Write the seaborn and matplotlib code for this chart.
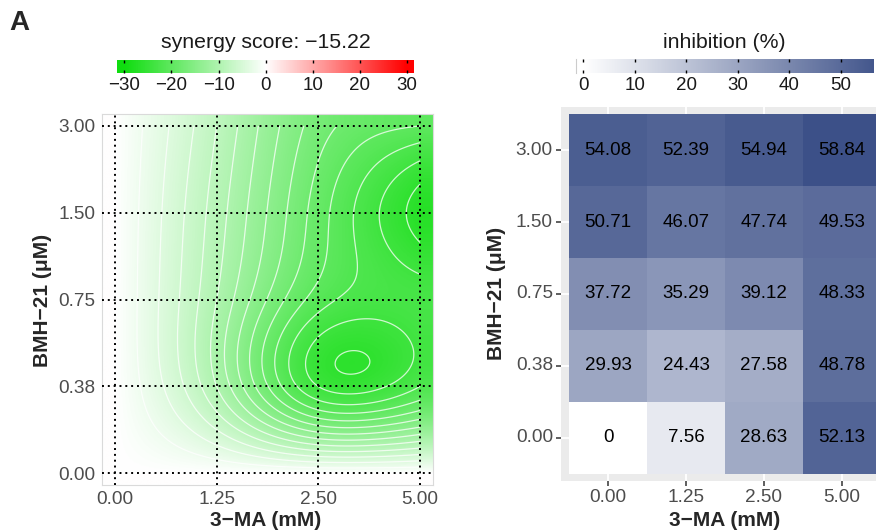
import numpy as np
import pandas as pd
import matplotlib
matplotlib.use("Agg")
import matplotlib.pyplot as plt
import seaborn as sns
from matplotlib.colors import LinearSegmentedColormap

# ---------------- data ----------------
ma_doses = ["0.00", "1.25", "2.50", "5.00"]              # 3-MA (mM)
bmh_doses = ["0.00", "0.38", "0.75", "1.50", "3.00"]     # BMH-21 (uM), bottom -> top
synergy_score = -15.22

# synergy (delta) scores per BMH-21 dose, across 3-MA doses
syn_bmh_0_00 = [0.0, 0.0, 0.0, 0.0]
syn_bmh_0_38 = [0.0, -10.0, -24.0, -22.0]
syn_bmh_0_75 = [0.0, -10.0, -21.0, -23.0]
syn_bmh_1_50 = [0.0, -9.0, -19.0, -27.0]
syn_bmh_3_00 = [0.0, -8.0, -17.0, -20.0]

# inhibition (%) per BMH-21 dose, across 3-MA doses
inh_bmh_0_00 = [0.0, 7.56, 28.63, 52.13]
inh_bmh_0_38 = [29.93, 24.43, 27.58, 48.78]
inh_bmh_0_75 = [37.72, 35.29, 39.12, 48.33]
inh_bmh_1_50 = [50.71, 46.07, 47.74, 49.53]
inh_bmh_3_00 = [54.08, 52.39, 54.94, 58.84]

# ---------------- setup ----------------
sns.set_style("white")
plt.rcParams["font.family"] = ["Liberation Sans", "DejaVu Sans"]

W, H = 876, 531
fig = plt.figure(figsize=(W / 100, H / 100), dpi=100)


def ax_px(l, t, r, b):
    return fig.add_axes([l / W, 1 - b / H, (r - l) / W, (b - t) / H])


def fx(px):
    return px / W


def fy(py):
    return 1 - py / H


TICK_GREY = "#4D4D4D"
TICK_FS = 13.7
syn_cmap = LinearSegmentedColormap.from_list("syn", ["#10DD10", "#FFFFFF", "#FF0000"])
inh_cmap = LinearSegmentedColormap.from_list("inh", ["#FFFFFF", "#3C5088"])


def natural_spline_weights(n, t):
    """Weights mapping n knot values (at 0..n-1) to natural cubic spline values at t."""
    Wt = np.zeros((len(t), n))
    for k in range(n):
        y = np.zeros(n)
        y[k] = 1.0
        M = np.zeros(n)
        if n > 2:
            A = np.zeros((n - 2, n - 2))
            rhs = np.zeros(n - 2)
            for i in range(1, n - 1):
                A[i - 1, i - 1] = 4.0
                if i - 2 >= 0:
                    A[i - 1, i - 2] = 1.0
                if i < n - 2:
                    A[i - 1, i] = 1.0
                rhs[i - 1] = 6 * (y[i + 1] - 2 * y[i] + y[i - 1])
            M[1:-1] = np.linalg.solve(A, rhs)
        i = np.clip(np.floor(t).astype(int), 0, n - 2)
        b = t - i
        a = 1 - b
        Wt[:, k] = a * y[i] + b * y[i + 1] + ((a ** 3 - a) * M[i] + (b ** 3 - b) * M[i + 1]) / 6
    return Wt


# ---------------- left: synergy surface ----------------
Z = np.array([syn_bmh_0_00, syn_bmh_0_38, syn_bmh_0_75, syn_bmh_1_50, syn_bmh_3_00])
ny, nx = Z.shape

axL = ax_px(101.7, 114.3, 432.7, 485.0)
xl = (-0.131, 3.125)
yl = (-0.135, 4.134)

tx = np.linspace(xl[0], xl[1], 500)
ty = np.linspace(yl[0], yl[1], 500)
Zf = natural_spline_weights(ny, np.clip(ty, 0, ny - 1)) @ Z @ natural_spline_weights(nx, np.clip(tx, 0, nx - 1)).T
axL.imshow(Zf, extent=(xl[0], xl[1], yl[0], yl[1]), origin="lower", aspect="auto",
           cmap=syn_cmap, vmin=-30, vmax=30, interpolation="bilinear", zorder=0)

cx = np.linspace(0, nx - 1, 300)
cy = np.linspace(0, ny - 1, 300)
Zc = natural_spline_weights(ny, cy) @ Z @ natural_spline_weights(nx, cx).T
axL.contour(cx, cy, Zc, levels=np.arange(-28, -1, 2), colors="white", linewidths=0.9,
            linestyles="solid", alpha=0.75, zorder=1)

axL.set_xlim(*xl)
axL.set_ylim(*yl)
axL.set_xticks(range(nx))
axL.set_xticklabels(ma_doses)
axL.set_yticks(range(ny))
axL.set_yticklabels(bmh_doses)
axL.grid(True, color="black", linestyle=(0, (1, 2)), linewidth=1.4)
axL.set_axisbelow(False)
for s in axL.spines.values():
    s.set_color("#DADADA")
    s.set_linewidth(0.8)
axL.tick_params(axis="both", length=3.0, width=1.0, color="black", labelsize=TICK_FS, labelcolor=TICK_GREY)
axL.tick_params(axis="x", pad=1.0)
axL.tick_params(axis="y", pad=1.5)

# left colorbar
cbL = ax_px(117.3, 60.0, 414.0, 73.3)
grad = np.linspace(-31.5, 31.5, 400)[None, :]
cbL.imshow(grad, extent=(-31.5, 31.5, 0, 1), aspect="auto", cmap=syn_cmap, vmin=-30, vmax=30)
cbL.set_xlim(-31.5, 31.5)
cbL.set_ylim(0, 1)
cbL.set_yticks([])
cbL.set_xticks([-30, -20, -10, 0, 10, 20, 30])
cbL.set_xticklabels(["\u221230", "\u221220", "\u221210", "0", "10", "20", "30"])
cbL.tick_params(axis="x", direction="in", top=True, bottom=True, length=2.5, width=1.0,
                color="black", labelsize=13.5, labelcolor="#1A1A1A", pad=3.0)
for s in cbL.spines.values():
    s.set_visible(False)
fig.text(fx(265.7), fy(42), f"synergy score: {synergy_score:.2f}".replace("-", "\u2212"),
         ha="center", va="center", fontsize=15.3, color="#1A1A1A")

# ---------------- right: inhibition heatmap ----------------
inh = pd.DataFrame([inh_bmh_3_00, inh_bmh_1_50, inh_bmh_0_75, inh_bmh_0_38, inh_bmh_0_00],
                   index=bmh_doses[::-1], columns=ma_doses)
labels = inh.map(lambda v: "0" if v == 0 else f"{v:.2f}")
vmax = inh.values.max()

axR = ax_px(561.0, 107.0, 889.0, 481.0)
axR.set_facecolor("#EBEBEB")
sns.heatmap(inh, ax=axR, cmap=inh_cmap, vmin=0, vmax=vmax, cbar=False,
            annot=labels, fmt="", annot_kws={"color": "black", "fontsize": 13.5})
axR.set_xlim(-0.103, 4.103)
axR.set_ylim(5.1, -0.1)
axR.set_xticks(np.arange(4) + 0.5)
axR.set_xticklabels(ma_doses, rotation=0)
axR.set_yticks(np.arange(5) + 0.5)
axR.set_yticklabels(bmh_doses[::-1], rotation=0)
axR.grid(True, color="white", linewidth=1.3)
axR.set_axisbelow(True)
for s in axR.spines.values():
    s.set_visible(False)
axR.tick_params(axis="both", length=3.6, width=1.1, color="#333333", labelsize=TICK_FS, labelcolor=TICK_GREY)
axR.tick_params(axis="x", pad=2.5, bottom=True)
axR.tick_params(axis="y", pad=2.2, left=True)
axR.set_xlabel("")
axR.set_ylabel("")

# right colorbar
cbR = ax_px(576.0, 59.3, 873.3, 73.3)
g0, g1 = -1.42, 56.31
gradR = np.linspace(g0, g1, 400)[None, :]
cbR.imshow(gradR, extent=(g0, g1, 0, 1), aspect="auto", cmap=inh_cmap, vmin=0, vmax=vmax)
cbR.set_xlim(g0, g1)
cbR.set_ylim(0, 1)
cbR.set_yticks([])
cbR.set_xticks([0, 10, 20, 30, 40, 50])
cbR.tick_params(axis="x", direction="in", top=True, bottom=True, length=2.5, width=1.0,
                color="black", labelsize=13.5, labelcolor="#1A1A1A", pad=3.0)
for s in cbR.spines.values():
    s.set_visible(False)
cbR.spines["left"].set_visible(True)
cbR.spines["left"].set_color("#CCCCCC")
fig.text(fx(724.5), fy(42), "inhibition (%)", ha="center", va="center", fontsize=15.3, color="#1A1A1A")

# ---------------- axis titles & panel label ----------------
fig.text(fx(265.8), fy(511), "3\u2212MA (mM)", ha="center", va="top", fontsize=15, fontweight="bold")
fig.text(fx(725.0), fy(511), "3\u2212MA (mM)", ha="center", va="top", fontsize=15, fontweight="bold")
fig.text(fx(43.0), fy(300.8), "BMH\u221221 (\u03bcM)", ha="center", va="center", rotation=90,
         fontsize=15, fontweight="bold")
fig.text(fx(496.7), fy(293.0), "BMH\u221221 (\u03bcM)", ha="center", va="center", rotation=90,
         fontsize=15, fontweight="bold")
fig.text(fx(9), fy(10), "A", ha="left", va="top", fontsize=20, fontweight="bold")

fig.savefig("out.png", dpi=100)
